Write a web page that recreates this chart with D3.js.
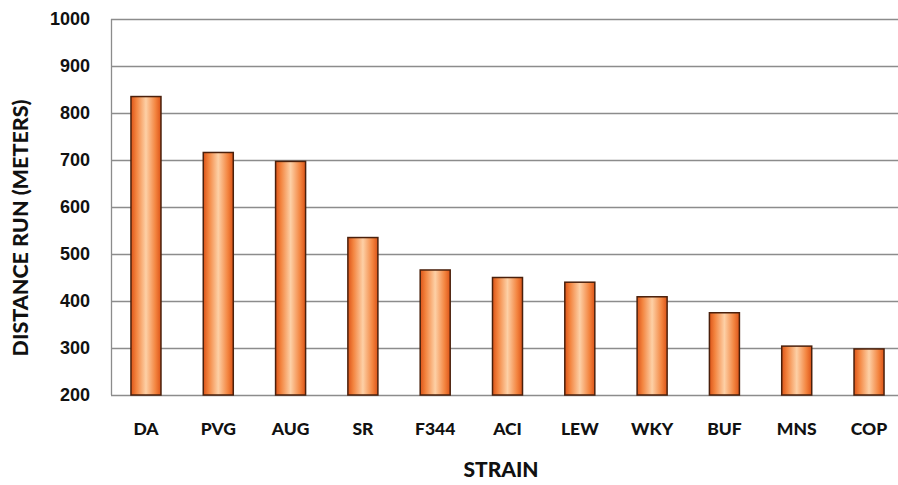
<!DOCTYPE html>
<html>
<head>
<meta charset="utf-8">
<script src="https://cdn.jsdelivr.net/npm/d3@7"></script>
<style>
  html, body { margin: 0; padding: 0; background: #fff; }
  svg { display: block; }
</style>
</head>
<body>
<svg id="chart" width="898" height="485"></svg>
<script>
// Rat strains and the distance each ran
const strains = ["DA", "PVG", "AUG", "SR", "F344", "ACI", "LEW", "WKY", "BUF", "MNS", "COP"];
const distances = [835, 716, 697, 535, 466, 450, 440, 409, 375, 304, 298];
const yTicks = [200, 300, 400, 500, 600, 700, 800, 900, 1000];

const svg = d3.select("#chart");
const plotLeft = 111, plotRight = 898, plotTop = 19, plotBottom = 395;

const x = d3.scaleBand().domain(strains).range([110, 905]).paddingInner(0.585).paddingOuter(0.29);
const y = d3.scaleLinear().domain([200, 1000]).range([plotBottom, plotTop]);

// horizontal bar gradient: dark orange edges, pale centre
const defs = svg.append("defs");
const grad = defs.append("linearGradient").attr("id", "barGrad")
  .attr("x1", "0%").attr("x2", "100%").attr("y1", "0%").attr("y2", "0%");
[[0, "#dc5418"], [0.18, "#f3843f"], [0.5, "#fdd0a6"], [0.82, "#f3843f"], [1, "#dc5418"]]
  .forEach(([o, c]) => grad.append("stop").attr("offset", o).attr("stop-color", c));

// gridlines
svg.append("g").selectAll("line").data(yTicks).join("line")
  .attr("x1", plotLeft).attr("x2", plotRight)
  .attr("y1", d => Math.round(y(d)) + 0.5).attr("y2", d => Math.round(y(d)) + 0.5)
  .attr("stroke", "#8c8c8c").attr("stroke-width", 1.3);

// left axis line
svg.append("line").attr("x1", plotLeft + 0.5).attr("x2", plotLeft + 0.5)
  .attr("y1", y(1000)).attr("y2", y(200))
  .attr("stroke", "#8c8c8c").attr("stroke-width", 1.3);

// y axis labels
const yAxis = d3.axisLeft(y).tickValues(yTicks).tickSize(0).tickPadding(0).tickFormat(d3.format("d"));
const ya = svg.append("g").attr("transform", "translate(90,0)").call(yAxis);
ya.select(".domain").remove();
ya.selectAll("text").attr("font-family", "Liberation Sans, Arial, sans-serif")
  .attr("font-weight", "bold").attr("font-size", 18).attr("fill", "#111");

// bars
svg.append("g").selectAll("rect").data(strains).join("rect")
  .attr("x", d => x(d))
  .attr("width", x.bandwidth())
  .attr("y", (d, i) => y(distances[i]))
  .attr("height", (d, i) => y(200) - y(distances[i]))
  .attr("fill", "url(#barGrad)")
  .attr("stroke", "#4a200c").attr("stroke-width", 1.5);

// x axis labels
const xAxis = d3.axisBottom(x).tickSize(0).tickPadding(0);
const xa = svg.append("g").attr("transform", "translate(0,423)").call(xAxis);
xa.select(".domain").remove();
xa.selectAll("text").attr("font-family", "Lato, Open Sans, sans-serif")
  .attr("font-weight", 900).attr("font-size", 17.5).attr("fill", "#111")
  .attr("dy", "0.71em");

// axis titles
svg.append("text").attr("x", 501).attr("y", 477).attr("text-anchor", "middle")
  .attr("font-family", "Lato, Open Sans, sans-serif").attr("font-weight", 900)
  .attr("font-size", 21).attr("fill", "#111").text("STRAIN");

svg.append("text").attr("transform", "translate(28,228) rotate(-90)")
  .attr("text-anchor", "middle")
  .attr("font-family", "Lato, Open Sans, sans-serif").attr("font-weight", 900)
  .attr("font-size", 21.5).attr("fill", "#111").text("DISTANCE RUN (METERS)");
</script>
</body>
</html>
